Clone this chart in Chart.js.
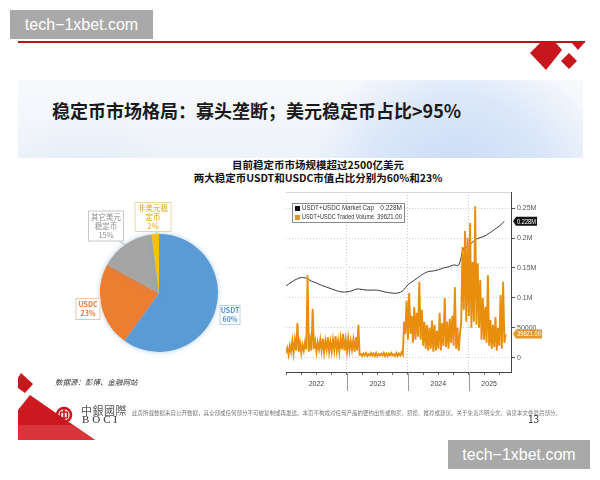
<!DOCTYPE html>
<html>
<head>
<meta charset="utf-8">
<script src="https://cdn.jsdelivr.net/npm/chart.js@4.4.1/dist/chart.umd.min.js"></script>
<style>
  body { margin: 0; width: 600px; height: 480px; background: #fff; position: relative; overflow: hidden; font-family: "Noto Sans CJK SC", sans-serif; }
  .abs { position: absolute; }
  .wm { background: #a9a9a9; color: #fff; font: 16px "Liberation Sans", sans-serif; line-height: 29px; height: 29px; text-align: center; }
  #banner { left: 18px; top: 80px; width: 565px; height: 78px;
    background:
      radial-gradient(circle at 440px 110px, rgba(196,216,245,0.95) 0, rgba(210,226,248,0.7) 95px, rgba(235,242,252,0) 150px),
      radial-gradient(circle at 70px 120px, rgba(220,230,244,0.8) 0, rgba(236,242,250,0) 90px),
      linear-gradient(180deg, #f7f9fc 0%, #eef3fa 100%); }
</style>
</head>
<body>
<div class="abs wm" style="left:10px;top:10px;width:143px;">tech−1xbet.com</div>
<div class="abs wm" style="left:448px;top:440px;width:142px;">tech−1xbet.com</div>

<div class="abs" id="banner"></div>

<svg class="abs" style="left:0;top:0" width="600" height="480">
  <rect x="18" y="41" width="567" height="2" fill="#b8141c"/>
  <polygon points="530,53 541,42 555,42 562,50 546,70" fill="#c8161d"/>
  <polygon points="561,61 569,53 577,61 569,69" fill="#c8161d"/>
  <polygon points="571,42 585,42 578,50" fill="#c8161d"/>
  <polygon points="18,378 21,373 33,384 25,393 18,388" fill="#c8161d"/>
  <polygon points="18,410 30,395 95,440 18,440" fill="#cc1a20"/>
  <polygon points="18,425 72,425 95,440 18,440" fill="#d8343a"/>
  <circle cx="64" cy="415" r="7" fill="none" stroke="#c8161d" stroke-width="2.6"/>
  <rect x="60.5" y="412" width="7" height="6" rx="1" fill="none" stroke="#c8161d" stroke-width="1.6"/>
  <line x1="64" y1="408.5" x2="64" y2="421.5" stroke="#c8161d" stroke-width="1.6"/>
</svg>

<div class="abs" style="left:52px;top:97px;font-size:18px;font-weight:bold;color:#1a1a1a;white-space:nowrap;">稳定币市场格局：寡头垄断；美元稳定币占比&gt;95%</div>
<div class="abs" style="left:168px;top:158px;width:300px;text-align:center;font-size:10.5px;font-weight:bold;line-height:13px;color:#111;">目前稳定币市场规模超过2500亿美元<br>两大稳定币USDT和USDC市值占比分别为60%和23%</div>

<div class="abs" style="left:59px;top:193px;width:200px;height:200px;"><canvas id="pie"></canvas></div>
<div class="abs" style="left:270px;top:185px;width:300px;height:210px;"><canvas id="line"></canvas></div>

<div class="abs" style="left:55px;top:376px;font-size:7.5px;font-style:italic;color:#333;">数据源：彭博、金融网站</div>
<div class="abs" style="left:81px;top:402px;font-family:'Noto Sans CJK TC';font-size:11px;color:#555;letter-spacing:0.5px;">中銀國際</div>
<div class="abs" style="left:82px;top:413px;font-family:'Liberation Serif',serif;font-size:11px;color:#333;letter-spacing:3px;">BOCI</div>
<div class="abs" style="left:132px;top:408px;font-size:11px;color:#777;white-space:nowrap;transform:scale(0.5);transform-origin:0 0;">此页所载数据来自公开数据，其全部或任何部分不可被复制或再发送。本页不构成对任何产品的要约出售或购买、招揽、推荐或建议。关于免责声明全文，请见本文件最后部分。</div>
<div class="abs" style="left:528px;top:411px;font-size:10px;color:#333;">13</div>

<script>
// ---- pie: market share of stablecoins (%)
const shareLabels = ['USDT', 'USDC', '其它美元稳定币', '非美元稳定币'];
const shareValues = [60, 23, 15, 2];
const shareColors = ['#5b9bd5', '#ed7d31', '#a5a5a5', '#ffc000'];

// ---- time series, one market cap value per month from Jan 2022 (thousands USD mn)
const marketCapK = [120, 126, 131, 134, 133, 128, 125, 121, 118, 115, 112, 110,
                    110, 112, 115, 114, 113, 113, 113, 111, 109, 108, 108, 112,
                    122, 128, 134, 140, 144, 145, 147, 150, 152, 155, 155, 183,
                    186, 196, 200, 203, 208, 214, 220, 228];
// traded volume, four readings per month from Jan 2022 (thousands)
const volumeK = [
  8, 16, 5, 20,     10, 28, 8, 30,    12, 58, 10, 25,   8, 22, 12, 26,
  14, 138, 10, 30,  12, 82, 15, 28,   10, 26, 14, 30,   12, 32, 9, 28,
  14, 34, 10, 27,   11, 30, 13, 36,   12, 28, 10, 32,   14, 40, 12, 30,
  10, 32, 12, 28,   14, 30, 10, 34,   12, 55, 5, 6,     3, 7, 4, 8,
  3, 6, 4, 8,       4, 7, 3, 8,       3, 6, 4, 7,       4, 8, 3, 7,
  3, 7, 4, 8,       4, 6, 3, 8,       3, 7, 4, 9,       5, 60, 40, 95,
  30, 108, 40, 70,  25, 85, 30, 75,   35, 127, 30, 80,  20, 60, 15, 55,
  12, 50, 15, 62,   10, 55, 12, 45,   15, 75, 12, 58,   20, 100, 18, 60,
  15, 65, 25, 70,   20, 118, 15, 50,  12, 40, 60, 185,  80, 212, 60, 200,
  70, 225, 50, 160, 60, 253, 55, 158, 50, 130, 30, 100, 30, 85, 25, 138,
  20, 63, 15, 55,   18, 68, 12, 50,   20, 105, 15, 127, 25, 39.621
];
const years = ['2022', '2023', '2024', '2025'];
const yearLabelMonths = [6, 18, 30, 40];
const yearBreakMonths = [12, 24, 36];
const yTicks = [0, 50000, 100000, 150000, 200000, 250000];
const yTickLabels = ['0', '50000', '0.1M', '0.15M', '0.2M', '0.25M'];
const seriesNames = ['USDT+USDC Market Cap', 'USDT+USDC Traded Volume'];

// callout boxes around the pie (offsets from pie centre)
const callouts = [
  { dx: 71, dy: 22, w: 21, h: 20, color: '#4f8fd0', border: '#b9cfe6', split: 0, bold: true },
  { dx: -71, dy: 16, w: 25, h: 22, color: '#e8762a', border: '#e8c7ae', split: 0, bold: true },
  { dx: -53, dy: -67, w: 36, h: 31, color: '#8c8c8c', border: '#c4c9cf', split: 4, lead: [-41, -52, -33, -48] },
  { dx: -6, dy: -76, w: 37, h: 30, color: '#e3a600', border: '#e6d7a8', split: 4, lead: [-2, -61, -3, -59] }
];

const calloutPlugin = {
  id: 'callouts',
  beforeDatasetsDraw(chart) {
    const ctx = chart.ctx;
    ctx.save();
    ctx.shadowColor = 'rgba(110,160,215,0.55)';
    ctx.shadowBlur = 5;
  },
  afterDatasetsDraw(chart) {
    const ctx = chart.ctx;
    ctx.restore();
    const arc = chart.getDatasetMeta(0).data[0];
    const cx = arc.x, cy = arc.y;
    callouts.forEach(function (c, i) {
      const name = shareLabels[i];
      const lines = c.split ? [name.slice(0, c.split), name.slice(c.split)] : [name];
      lines.push(shareValues[i] + '%');
      const x = cx + c.dx, y = cy + c.dy;
      if (c.lead) {
        ctx.strokeStyle = '#9aa4ae';
        ctx.lineWidth = 0.8;
        ctx.beginPath();
        ctx.moveTo(cx + c.lead[0], cy + c.lead[1]);
        ctx.lineTo(cx + c.lead[2], cy + c.lead[3]);
        ctx.stroke();
      }
      ctx.fillStyle = '#fff';
      ctx.fillRect(x - c.w / 2, y - c.h / 2, c.w, c.h);
      ctx.strokeStyle = c.border;
      ctx.lineWidth = 1;
      ctx.strokeRect(x - c.w / 2 + 0.5, y - c.h / 2 + 0.5, c.w - 1, c.h - 1);
      ctx.fillStyle = c.color;
      ctx.textAlign = 'center';
      ctx.textBaseline = 'middle';
      ctx.font = (c.bold ? 'bold 7px' : '7.5px') + ' "Noto Sans CJK SC"';
      const lh = 9;
      lines.forEach(function (t, k) {
        ctx.fillText(t, x, y + (k - (lines.length - 1) / 2) * lh);
      });
    });
  }
};

new Chart(document.getElementById('pie').getContext('2d'), {
  type: 'pie',
  data: {
    labels: shareLabels,
    datasets: [{ data: shareValues, backgroundColor: shareColors, borderWidth: 0 }]
  },
  options: {
    responsive: true,
    maintainAspectRatio: false,
    animation: false,
    layout: { padding: 41 },
    plugins: { legend: { display: false }, tooltip: { enabled: false } }
  },
  plugins: [calloutPlugin]
});

// ---- line chart
const capPoints = marketCapK.map(function (v, i) { return { x: i, y: v * 1000 }; });
const volPoints = volumeK.map(function (v, i) { return { x: i / 4, y: v * 1000 }; });
const capLast = marketCapK[marketCapK.length - 1] * 1000;
const volLast = volumeK[volumeK.length - 1] * 1000;
const capText = (capLast / 1e6).toFixed(3) + 'M';
const volText = volLast.toFixed(2);

const decorPlugin = {
  id: 'decor',
  afterDraw(chart) {
    const ctx = chart.ctx, a = chart.chartArea;
    const xs = chart.scales.x, ys = chart.scales.y;
    ctx.save();
    // top frame line
    ctx.strokeStyle = '#d8d8d8';
    ctx.lineWidth = 1;
    ctx.beginPath();
    ctx.moveTo(a.left, a.top + 0.5);
    ctx.lineTo(a.right, a.top + 0.5);
    ctx.stroke();
    // year separators under the axis
    ctx.strokeStyle = '#9a9a9a';
    yearBreakMonths.forEach(function (m) {
      const px = Math.round(xs.getPixelForValue(m)) + 0.5;
      ctx.beginPath();
      ctx.moveTo(px, a.bottom);
      ctx.lineTo(px, a.bottom + 19);
      ctx.stroke();
    });
    // legend box
    const lx = a.left + 6, ly = a.top + 11, lw = 113, lh = 20;
    ctx.fillStyle = '#fff';
    ctx.fillRect(lx, ly, lw, lh);
    ctx.strokeStyle = '#8a8a8a';
    ctx.strokeRect(lx + 0.5, ly + 0.5, lw - 1, lh - 1);
    const swatch = ['#111', '#e0951f'];
    const vals = [capText, volText];
    ctx.font = '6.5px "Liberation Sans"';
    ctx.textBaseline = 'middle';
    for (let i = 0; i < 2; i++) {
      const ry = ly + 5.5 + i * 9;
      ctx.fillStyle = swatch[i];
      ctx.fillRect(lx + 3, ry - 2.5, 5, 5);
      ctx.fillStyle = '#333';
      ctx.textAlign = 'left';
      ctx.fillText(seriesNames[i], lx + 10, ry, 72);
      ctx.textAlign = 'right';
      ctx.fillText(vals[i], lx + lw - 3, ry, 25);
    }
    // last value flags on the right axis
    function flag(yv, text, bg, fg, w) {
      const py = ys.getPixelForValue(yv);
      const x0 = a.right + 2;
      ctx.fillStyle = bg;
      ctx.beginPath();
      ctx.moveTo(x0, py);
      ctx.lineTo(x0 + 3, py - 4.5);
      ctx.lineTo(x0 + w, py - 4.5);
      ctx.lineTo(x0 + w, py + 4.5);
      ctx.lineTo(x0 + 3, py + 4.5);
      ctx.closePath();
      ctx.fill();
      ctx.fillStyle = fg;
      ctx.textAlign = 'left';
      ctx.font = '6.5px "Liberation Sans"';
      ctx.fillText(text, x0 + 4, py + 0.5, w - 5);
    }
    flag(capLast, capText, '#111', '#fff', 24);
    flag(volLast, volText, '#e39a2b', '#fff', 29);
    ctx.restore();
  }
};

new Chart(document.getElementById('line').getContext('2d'), {
  type: 'line',
  data: {
    datasets: [
      { label: seriesNames[1], data: volPoints, borderColor: '#e88d0c', borderWidth: 1.9, pointRadius: 0, tension: 0 },
      { label: seriesNames[0], data: capPoints, borderColor: '#3a3a3a', borderWidth: 1, pointRadius: 0, tension: 0.35 }
    ]
  },
  options: {
    responsive: true,
    maintainAspectRatio: false,
    animation: false,
    layout: { padding: { left: 16, top: 7, right: 0, bottom: 0 } },
    plugins: { legend: { display: false }, tooltip: { enabled: false } },
    scales: {
      x: {
        type: 'linear',
        min: 0,
        max: 44.3,
        afterBuildTicks: function (scale) {
          const t = [];
          for (let m = 0; m <= 42; m += 3) t.push({ value: m });
          t.push({ value: 40 });
          t.sort(function (p, q) { return p.value - q.value; });
          scale.ticks = t;
        },
        afterFit: function (scale) { scale.height = 23; },
        ticks: {
          autoSkip: false,
          maxRotation: 0,
          padding: 5,
          color: '#444',
          font: { size: 7, family: 'Liberation Sans' },
          callback: function (v) {
            const i = yearLabelMonths.indexOf(v);
            return i >= 0 ? years[i] : '';
          }
        },
        grid: {
          color: function (c) { return c.tick && yearBreakMonths.indexOf(c.tick.value) >= 0 ? '#c8c8c8' : 'rgba(0,0,0,0)'; },
          tickColor: function (c) { return c.tick && yearLabelMonths.indexOf(c.tick.value) >= 0 && c.tick.value % 3 !== 0 ? 'rgba(0,0,0,0)' : '#777'; },
          tickLength: 3
        },
        border: { display: true, color: '#444', width: 1, dash: [1, 2] }
      },
      y: {
        position: 'right',
        min: -23800,
        max: 277000,
        afterBuildTicks: function (scale) {
          scale.ticks = yTicks.map(function (v) { return { value: v }; });
        },
        afterFit: function (scale) { scale.width = 59; },
        ticks: {
          padding: 2,
          color: '#555',
          font: { size: 7, family: 'Liberation Sans' },
          callback: function (v) { return yTickLabels[yTicks.indexOf(v)]; }
        },
        grid: { color: '#cdcdcd', tickColor: '#555', tickLength: 4 },
        border: { display: true, color: '#444', width: 1, dash: [1, 2] }
      }
    }
  },
  plugins: [decorPlugin]
});
</script>
</body>
</html>
